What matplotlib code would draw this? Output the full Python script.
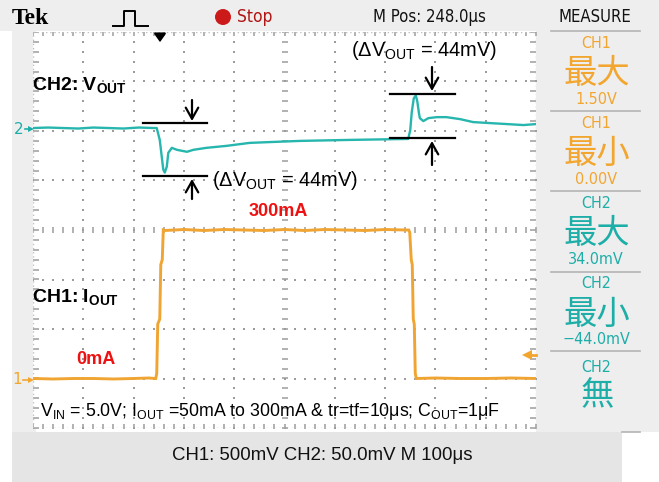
import matplotlib
matplotlib.use("Agg")
import matplotlib.pyplot as plt
import numpy as np
from matplotlib.patches import Rectangle, Circle

# ---------------- data ----------------
ch1_time_us = [0, 40, 80, 120, 160, 200, 230, 244, 246, 248, 252, 254, 257, 259, 262,
               300, 340, 380, 420, 460, 500, 540, 580, 620, 660, 700, 740,
               747, 749, 752, 754, 756, 758, 760, 762, 800, 850, 900, 950, 1000]
ch1_current_mA = [0, -1, 0, 0, -1, 0, 1, 0, 10, 110, 120, 230, 240, 300, 299,
                  301, 299, 301, 300, 299, 301, 299, 301, 300, 299, 301, 300,
                  300, 295, 240, 230, 120, 110, 10, 0, 1, 0, 0, 1, 0]

ch2_time_us = [0, 30, 60, 90, 120, 150, 180, 210, 240, 246, 252, 259, 262, 266, 269, 276,
               286, 306, 319, 345, 385, 431, 480, 531, 580, 630, 690, 746,
               750, 753, 757, 761, 764, 767, 769, 776, 786, 803, 822, 849, 875, 908, 942, 975, 1000]
ch2_mV = [0, 0.5, 0, -0.5, 0.5, 0, -0.5, 0.5, 0, 0, -12, -42, -45, -39, -25, -20,
          -22, -24, -22, -20, -18, -15, -14, -13, -12.5, -12, -11.5, -11,
          -2, 16, 30, 33, 27, 16, 10, 7, 10, 11, 11, 9, 6, 5, 4, 3, 4]

ch1_mA_per_div = 100.0
ch1_offset_div = -3.0
ch2_mV_per_div = 50.0
ch2_offset_div = 2.06

measure_items = [("CH1", "最大", "1.50V"), ("CH1", "最小", "0.00V"),
                 ("CH2", "最大", "34.0mV"), ("CH2", "最小", "\u221244.0mV"),
                 ("CH2", "無", "")]
status_text = "CH1: 500mV CH2: 50.0mV M 100\u03bcs"
mpos_text = "M Pos: 248.0\u03bcs"

# ---------------- style ----------------
plt.rcParams['mathtext.fontset'] = 'custom'
plt.rcParams['mathtext.rm'] = 'Liberation Sans'
plt.rcParams['mathtext.it'] = 'Liberation Sans:italic'
plt.rcParams['mathtext.bf'] = 'Liberation Sans:bold'
SANS = ['Liberation Sans', 'DejaVu Sans']
CJK = ['Noto Sans CJK SC', 'DejaVu Sans']
ORANGE_TR = '#f0a532'
ORANGE_TX = '#f2a630'
TEAL_TR = '#27b6ae'
TEAL_TX = '#1eaea8'
GRID = '#9c9c9c'

W, H = 659, 482
fig = plt.figure(figsize=(W / 100, H / 100), dpi=100)
fig.patch.set_facecolor('white')

# background layer in pixel coords
bg = fig.add_axes([0, 0, 1, 1], zorder=0)
bg.set_xlim(0, W); bg.set_ylim(H, 0); bg.axis('off')
bg.add_patch(Rectangle((0, 0), W, 31, color='#eeeeee', lw=0))
bg.add_patch(Rectangle((12, 31), 24, 401, color='#eeeeee', lw=0))
bg.add_patch(Rectangle((536, 31), W - 536, 401, color='#eeeeee', lw=0))
bg.add_patch(Rectangle((12, 432), 610, 50, color='#e5e5e5', lw=0))

# main graticule axes
gl, gr, gt, gb = 33, 536, 32, 428
ax = fig.add_axes([gl / W, 1 - gb / H, (gr - gl) / W, (gb - gt) / H], zorder=1)
ax.set_xlim(0, 1000); ax.set_ylim(-4, 4)
ax.set_facecolor('white')
for s in ax.spines.values():
    s.set_visible(False)
ax.set_xticks([]); ax.set_yticks([])

# graticule dots
minor_x = np.arange(0, 1001, 20)
minor_y = np.arange(-4, 4.01, 0.2)
for i in range(1, 10):
    if i == 5:
        continue
    ax.plot(np.full_like(minor_y, i * 100), minor_y, ls='none', marker='s', ms=1.5,
            color=GRID, mew=0)
for j in range(-3, 4):
    if j == 0:
        continue
    ax.plot(minor_x, np.full_like(minor_x, j, dtype=float), ls='none', marker='s', ms=1.5,
            color=GRID, mew=0)
# center lines with ticks
ax.plot(np.full_like(minor_y, 500), minor_y, ls='none', marker='_', ms=4.5, mew=1.1, color=GRID)
ax.plot(minor_x, np.zeros_like(minor_x, dtype=float), ls='none', marker='|', ms=5, mew=1.1, color=GRID)
# edges with ticks
ax.plot(minor_x, np.full(len(minor_x), 3.97), ls='none', marker='|', ms=4, mew=1.1, color=GRID)
ax.plot(minor_x, np.full(len(minor_x), -3.97), ls='none', marker='|', ms=4, mew=1.1, color=GRID)
ax.plot(np.full(len(minor_y), 6), minor_y, ls='none', marker='_', ms=4, mew=1.1, color=GRID)
ax.plot(np.full(len(minor_y), 994), minor_y, ls='none', marker='_', ms=4, mew=1.1, color=GRID)
for xx in (0, 1000):
    ax.plot([xx, xx], [-4, 4], color='#c0c0c0', lw=1, ls=(0, (1, 2)))
for yy in (-4, 4):
    ax.plot([0, 1000], [yy, yy], color='#c0c0c0', lw=1, ls=(0, (1, 2)))

# traces
ch1_y = [ch1_offset_div + v / ch1_mA_per_div for v in ch1_current_mA]
ch2_y = [ch2_offset_div + v / ch2_mV_per_div for v in ch2_mV]
ax.plot(ch1_time_us, ch1_y, color=ORANGE_TR, lw=2.1, solid_joinstyle='miter', zorder=5)
ax.plot(ch2_time_us, ch2_y, color=TEAL_TR, lw=1.7, zorder=5)

# overlay layer in pixel coords
ov = fig.add_axes([0, 0, 1, 1], zorder=2)
ov.set_xlim(0, W); ov.set_ylim(H, 0); ov.axis('off')
ov.patch.set_alpha(0)

# top bar
ov.text(12, 19, "Tek", family=['Liberation Serif', 'DejaVu Serif'], weight='bold',
        fontsize=17, va='center', ha='left', color='black')
ov.plot([113, 124, 124, 135, 135, 148], [26, 26, 11, 11, 26, 26], color='black', lw=1.4)
ov.add_patch(Circle((223, 17), 8, color='#cc1a1a', lw=0))
ov.text(237, 17, "Stop", family=['DejaVu Sans'], fontstretch='condensed', fontsize=12.5,
        color='#b01515', va='center', ha='left')
ov.text(373, 17, mpos_text, family=['DejaVu Sans'], fontstretch='condensed', fontsize=12,
        color='#111111', va='center', ha='left')
ov.text(595, 17, "MEASURE", family=['DejaVu Sans'], fontstretch='condensed', fontsize=12,
        color='#111111', va='center', ha='center')
# trigger position arrow
ov.annotate('', xy=(160, 45), xytext=(160, 32),
            arrowprops=dict(arrowstyle='-|>,head_length=0.5,head_width=0.35', color='black', lw=1.5))

# channel markers
ov.text(19, 129, "2", color=TEAL_TX, fontsize=11, family=['DejaVu Sans'], ha='center', va='center')
ov.plot([25, 31], [129, 129], color=TEAL_TX, lw=1.2)
ov.plot([30.5], [129], marker='>', ms=4, color=TEAL_TX, mew=0)
ov.text(17, 380, "1", color=ORANGE_TX, fontsize=11, family=['DejaVu Sans'], ha='center', va='center')
ov.plot([23, 31], [380, 380], color=ORANGE_TX, lw=1.2)
ov.plot([30.5], [380], marker='>', ms=4, color=ORANGE_TX, mew=0)
# trigger level arrow
ov.plot([527, 536], [355, 355], color=ORANGE_TX, lw=2)
ov.plot([527], [355], marker='<', ms=7, color=ORANGE_TX, mew=0)

# labels
ov.text(32, 85, r"CH2: V$_{\mathbf{OUT}}$", family=SANS, weight='bold', fontsize=14,
        ha='left', va='center')
ov.text(32, 297, r"CH1: I$_{\mathbf{OUT}}$", family=SANS, weight='bold', fontsize=14,
        ha='left', va='center')
ov.text(278, 212, "300mA", family=SANS, weight='bold', fontsize=13, color='#ee1111',
        ha='center', va='center')
ov.text(96, 359, "0mA", family=SANS, weight='bold', fontsize=13, color='#ee1111',
        ha='center', va='center')
ov.text(212, 181, r"($\Delta$V$_{\rm OUT}$ = 44mV)", family=SANS, fontsize=14.4,
        ha='left', va='center')
ov.text(351, 50, r"($\Delta$V$_{\rm OUT}$ = 44mV)", family=SANS, fontsize=14.4,
        ha='left', va='center')
ov.text(40, 411, r"V$_{\rm IN}$ = 5.0V; I$_{\rm OUT}$ =50mA to 300mA & tr=tf=10μs; C$_{\rm OUT}$=1μF",
        family=SANS, fontsize=12.8, ha='left', va='center')
ov.text(322, 456, status_text, family=SANS, fontsize=13.4, ha='center', va='center',
        color='#111111')

# delta annotation bars and arrows
for y in (123, 176):
    ov.plot([143, 207], [y, y], color='black', lw=1.6)
for y in (94, 138):
    ov.plot([390, 455], [y, y], color='black', lw=1.6)
arrow_kw = dict(arrowstyle='->,head_length=0.8,head_width=0.45', color='black', lw=1.6,
                shrinkA=0, shrinkB=0)
ov.annotate('', xy=(192, 121), xytext=(192, 100), arrowprops=arrow_kw)
ov.annotate('', xy=(192, 179), xytext=(192, 199), arrowprops=arrow_kw)
ov.annotate('', xy=(432, 91), xytext=(432, 67), arrowprops=arrow_kw)
ov.annotate('', xy=(432, 141), xytext=(432, 165), arrowprops=arrow_kw)

# measure panel
sep_y = [31, 111, 191, 272, 351]
for y in sep_y:
    ov.plot([551, 640], [y, y], color='#b4b4b4', lw=1.2)
ov.plot([622, 640], [432, 432], color='#b4b4b4', lw=1.2)
for k, (ch, name, val) in enumerate(measure_items):
    col = ORANGE_TX if ch == "CH1" else TEAL_TX
    top = sep_y[k]
    if val:
        ov.text(596, top + 12, ch, color=col, family=['DejaVu Sans'], fontstretch='condensed',
                fontsize=11.5, ha='center', va='center')
        ov.text(597, top + 42, name, color=col, family=CJK, fontsize=24,
                ha='center', va='center')
        ov.text(596, top + 68, val, color=col, family=['DejaVu Sans'], fontstretch='condensed',
                fontsize=11.5, ha='center', va='center')
    else:
        ov.text(596, top + 17, ch, color=col, family=['DejaVu Sans'], fontstretch='condensed',
                fontsize=11.5, ha='center', va='center')
        ov.text(597, top + 45, name, color=col, family=CJK, fontsize=24,
                ha='center', va='center')

fig.savefig('out.png', dpi=100)
